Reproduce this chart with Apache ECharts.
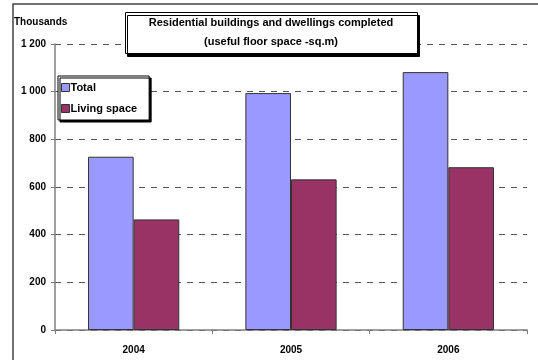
<!DOCTYPE html>
<html><head><meta charset="utf-8">
<script src="https://cdn.jsdelivr.net/npm/echarts@6/dist/echarts.min.js"></script>
<style>html,body{margin:0;padding:0;background:#fff}#c{width:538px;height:360px}</style>
</head><body><div id="c"></div>
<script>
const categories = ['2004', '2005', '2006'];
const totalValues = [727, 994, 1082];
const livingValues = [464, 632, 683];
const seriesNames = ['Total', 'Living space'];
const titleLines = ['Residential buildings and dwellings completed', '(useful floor space -sq.m)'];

const FONT = '"Liberation Sans", Arial, sans-serif';
const chart = echarts.init(document.getElementById('c'), null, {renderer: 'canvas'});
chart.setOption({
  animation: false,
  backgroundColor: '#fff',
  textStyle: {fontFamily: FONT},
  grid: {left: 55, right: 11, top: 44, bottom: 30},
  legend: {
    orient: 'vertical', left: 58, top: 76,
    data: seriesNames.map(n => ({name: n, icon: 'rect'})),
    itemWidth: 8, itemHeight: 8, itemGap: 10,
    padding: [6, 12, 6, 3],
    backgroundColor: '#fff',
    borderColor: '#000', borderWidth: 1,
    shadowColor: '#000', shadowOffsetX: 2, shadowOffsetY: 2, shadowBlur: 0,
    textStyle: {fontFamily: FONT, fontSize: 11, fontWeight: 'bold', color: '#000', padding: [0, 0, 0, -4]},
    itemStyle: {borderColor: '#333', borderWidth: 1}
  },
  xAxis: {
    type: 'category', data: categories,
    axisLine: {lineStyle: {color: '#808080', width: 1.5}},
    axisTick: {show: true, length: 4, lineStyle: {color: '#808080'}},
    axisLabel: {fontFamily: FONT, fontSize: 10, fontWeight: 'bold', color: '#000', margin: 15}
  },
  yAxis: {
    type: 'value', min: 0, max: 1200, interval: 200,
    name: 'Thousands',
    nameLocation: 'end',
    nameGap: 17,
    nameTextStyle: {fontFamily: FONT, fontSize: 10, fontWeight: 'bold', color: '#000', align: 'left', padding: [0, 0, 0, -41]},
    axisLine: {show: true, lineStyle: {color: '#808080', width: 1.5}},
    axisTick: {show: true, length: 4, lineStyle: {color: '#808080'}},
    axisLabel: {fontFamily: FONT, fontSize: 10, fontWeight: 'bold', color: '#000', margin: 9,
      formatter: v => v >= 1000 ? String(v).replace(/(\d)(\d{3})$/, '$1 $2') : String(v)},
    splitLine: {show: true, lineStyle: {color: '#555', type: [6, 6], width: 1}}
  },
  series: [
    {name: seriesNames[0], type: 'bar', data: totalValues, barGap: '0%', barCategoryGap: '42%',
     itemStyle: {color: '#9999FF', borderColor: '#333', borderWidth: 1}},
    {name: seriesNames[1], type: 'bar', data: livingValues,
     itemStyle: {color: '#993366', borderColor: '#333', borderWidth: 1}}
  ],
  graphic: [
    {type: 'rect', silent: true, z: -1, shape: {x: 13, y: 4, width: 540, height: 370},
     style: {fill: 'none', stroke: '#444', lineWidth: 1.5}},
    {type: 'rect', silent: true, z: 100, shape: {x: 125.5, y: 12.5, width: 292, height: 41},
     style: {fill: '#fff', stroke: '#000', lineWidth: 1, shadowColor: '#000', shadowOffsetX: 2, shadowOffsetY: 3, shadowBlur: 0}},
    {type: 'text', silent: true, z: 101, x: 271, y: 23,
     style: {text: titleLines[0], fontFamily: FONT, fontSize: 11, fontWeight: 'bold', fill: '#000', align: 'center', verticalAlign: 'middle'}},
    {type: 'text', silent: true, z: 101, x: 271, y: 42,
     style: {text: titleLines[1], fontFamily: FONT, fontSize: 11, fontWeight: 'bold', fill: '#000', align: 'center', verticalAlign: 'middle'}}
  ]
});
</script></body></html>
